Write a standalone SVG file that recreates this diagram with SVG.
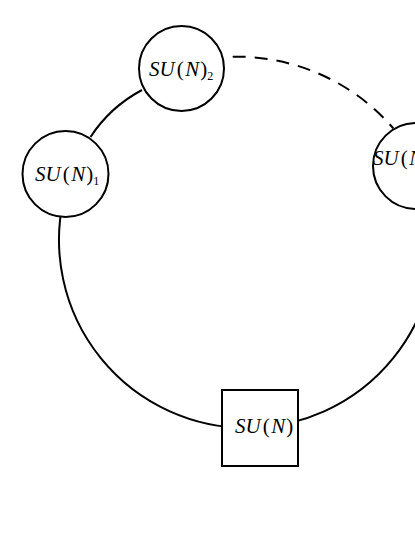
<svg xmlns="http://www.w3.org/2000/svg" width="415" height="537" viewBox="0 0 415 537">
<style>
.edge{fill:none;stroke:#000;stroke-width:2}
.dash{stroke-dasharray:13 9}
.node{fill:#fff;stroke:#000;stroke-width:2}
.lbl{font-family:"Liberation Serif","Times New Roman",serif;font-size:21px;fill:#000}
.it{font-style:italic}
.sub{font-size:12px}
</style>
<rect width="415" height="537" fill="#fff"/>
<g id="connectors">
<path class="edge" d="M63.3,200 A188,188 0 1 0 430.7,200"/>
<path class="edge" d="M90.5,137 A140,140 0 0 1 142,90"/>
<path class="edge dash" d="M232.7,56.7 A207,207 0 0 1 393.3,128.3"/>
</g>
<g id="su2">
<circle class="node" cx="181.5" cy="68.5" r="42.5"/>
<text class="lbl" x="149" y="75.5"><tspan class="it">SU</tspan><tspan dx="2">(</tspan><tspan class="it" dx="1.5">N</tspan><tspan dx="1">)</tspan><tspan class="sub" dy="4">2</tspan></text>
</g>
<g id="su1">
<circle class="node" cx="65.5" cy="174" r="43"/>
<text class="lbl" x="35" y="181"><tspan class="it">SU</tspan><tspan dx="2">(</tspan><tspan class="it" dx="1.5">N</tspan><tspan dx="1">)</tspan><tspan class="sub" dy="4">1</tspan></text>
</g>
<g id="suN">
<circle class="node" cx="416" cy="166" r="43"/>
<text class="lbl" x="373" y="165"><tspan class="it">SU</tspan><tspan dx="2">(</tspan><tspan class="it" dx="1.5">N</tspan><tspan dx="1">)</tspan><tspan class="sub" dy="4">N</tspan></text>
</g>
<g id="su">
<rect class="node" x="222" y="390" width="76" height="76"/>
<text class="lbl" x="235" y="433"><tspan class="it">SU</tspan><tspan dx="2">(</tspan><tspan class="it" dx="1.5">N</tspan><tspan dx="1">)</tspan></text>
</g>
</svg>
